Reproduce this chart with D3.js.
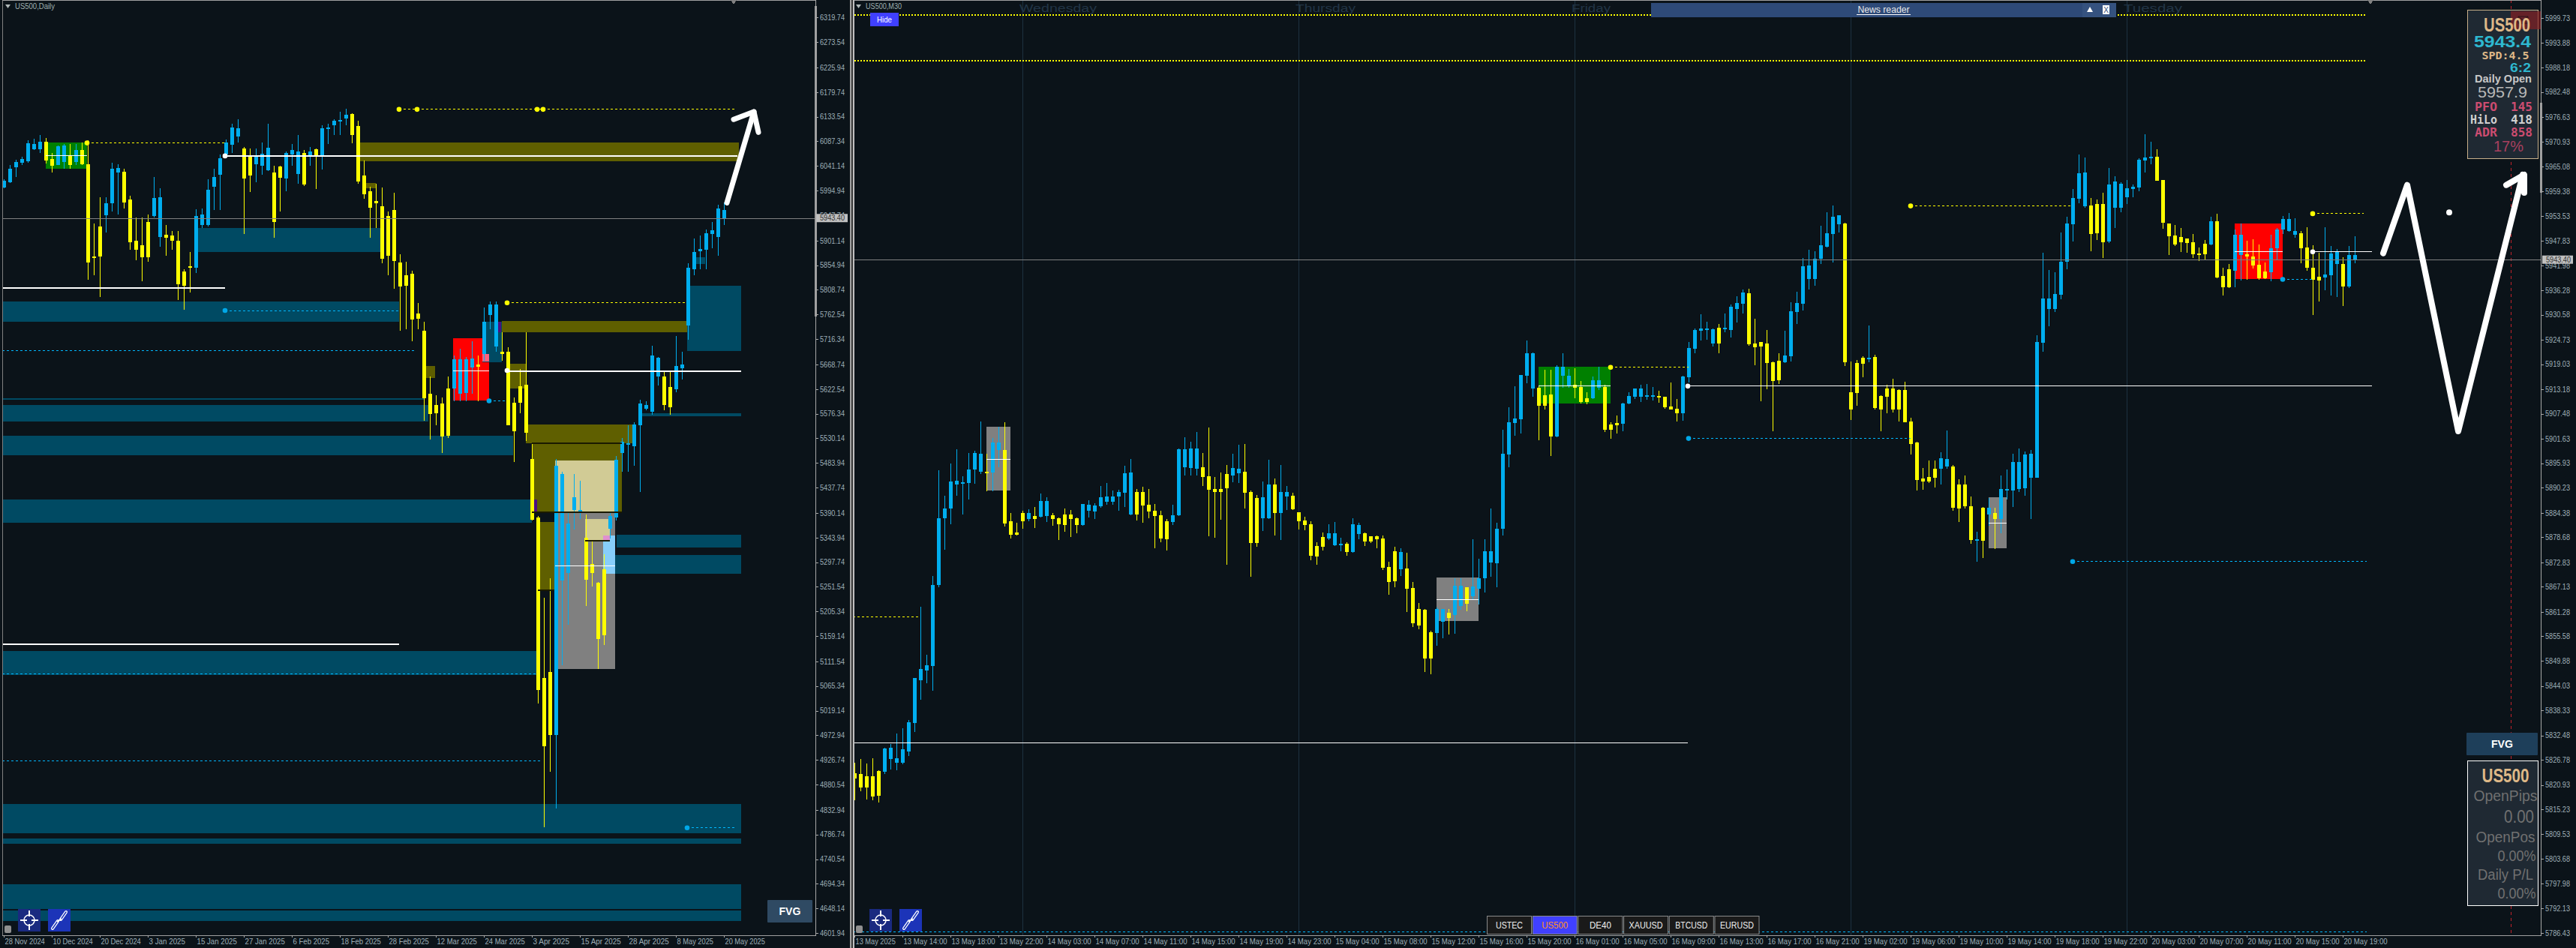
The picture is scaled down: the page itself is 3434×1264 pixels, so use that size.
<!DOCTYPE html>
<html><head><meta charset="utf-8">
<script src="https://cdn.jsdelivr.net/npm/d3@7"></script>
<style>
html,body{margin:0;padding:0;background:#0b1319;overflow:hidden}
svg{display:block}
text{font-family:"Liberation Sans",sans-serif}
</style></head><body>
<script>
// ---------- Daily pane data ----------
const dailyDates = ["28 Nov 2024","10 Dec 2024","20 Dec 2024","3 Jan 2025","15 Jan 2025","27 Jan 2025","6 Feb 2025","18 Feb 2025","28 Feb 2025","12 Mar 2025","24 Mar 2025","3 Apr 2025","15 Apr 2025","28 Apr 2025","8 May 2025","20 May 2025"];
const dailyTicks = [6319.74,6273.54,6225.94,6179.74,6133.54,6087.34,6041.14,5994.94,5947.74,5901.14,5854.94,5808.74,5762.54,5716.34,5668.74,5622.54,5576.34,5530.14,5483.94,5437.74,5390.14,5343.94,5297.74,5251.54,5205.34,5159.14,5111.54,5065.34,5019.14,4972.94,4926.74,4880.54,4832.94,4786.74,4740.54,4694.34,4648.14,4601.94];
const dailyOpen = [6000.4,6011,6039,6047,6050,6072,6072,6087,6054,6043.5,6049,6060,6048,6071,6044,5871,5927,5949,5971,6029,6030,5978,5901,5893,5936,5947,5908,5912,5911,5901,5843,5853,5850,5930,5930,6002,6024,6063,6081,6096,6074,6060,6044,6042,6033,6029,6040,6017,6062,6026,6065,6061,6072,6059,6112,6118,6125,6130,6139,6116,6023,5993,5975,5966,5947,5958,5860,5836,5839,5764,5732,5614,5593,5595,5624,5623,5614,5615,5663,5668,5689,5762,5703,5692,5692,5597,5628,5630,5492,5382,5081,5091,4973,5263,5278,5396,5390,5344,5294,5259,5285,5360,5381,5502,5518.5,5515,5555,5586,5580,5646,5646,5626,5622,5661,5742,5847,5881,5884,5914,5908,5943.5];
const dailyClose = [6013.6,6036,6049,6054,6084,6082.5,6086.5,6051.5,6042,6078,6080,6043.5,6071,6045,5860,5870,5871,5971,6036,6037,5973,5898,5884,5870,5870,5981,5983,5907,5901,5819,5817,5850,5947,5950,5996,6020.5,6056,6085,6113.5,6112,6018,6023,6058,6064,6075,5936,6019,6065,6071,6068,6007,6068,6060,6112,6114,6126,6127,6137,6099,6012,5988,5963,5971,5867,5873,5863,5815,5817,5753,5755,5605,5576,5577,5533,5535,5678,5679,5678,5680,5665,5749,5781,5781,5689,5555,5543,5597,5540,5377,5058,4953,4973,5479,5463,5370,5419,5396,5265,5278,5153,5160,5385,5490,5524,5521,5556,5595.5,5592.5,5686,5681,5592.5,5589,5665.5,5668,5850,5880,5885.5,5915,5920.5,5961,5958.5];
const dailyHigh = [6016.5,6043.5,6052.7,6057.8,6089.4,6092.3,6099.8,6094,6065.3,6079.7,6082.5,6082.5,6082.5,6085.4,6089.4,5933,5982,5982,6047,6045,6036.6,5985,5945,5945,5950,6020.5,5999,5930,5919,5919,5847,5879,5960,5962,6016.5,6036.6,6062.4,6091,6120,6128.5,6077,6074,6074,6085.4,6120,6042,6042,6068,6082.5,6099.8,6071,6076.8,6074,6117,6120,6128.5,6143,6148.6,6140,6125.6,6051,6002,6008,6001,5956,5990.6,5875.8,5861.4,5844,5784,5749,5646,5611.5,5606,5646,5686,5697.7,5683.3,5712,5686,5775,5786.7,5786.7,5729,5700.5,5606,5660,5729,5519.6,5384.6,5231,5267,5491,5468,5390,5462.7,5450.7,5387,5339,5261,5312,5393,5496.6,5531,5554,5560,5603,5600,5703.4,5683.3,5657.5,5657.5,5721.8,5693,5858.5,5905.6,5910,5921.7,5936,5967.7,5972];
const dailyLow = [5999.2,6009.6,6021,6042.3,6047.5,6071,6065.9,6045.2,6029,6042.3,6036.6,6035.4,6042.3,6042.3,5828,5836,5795,5916,5956,5950,5962,5884,5864,5825,5861,5945,5890,5873,5884,5790,5771,5804,5840,5925,5927,5959,5959,6057,6065,6085,5914,5992,6011,6025,6031,5907,5956,5993.5,6042,6008,6004,6042,5997.5,6034,6082.5,6099.8,6099.8,6117,6084,6008,5979,5907,5925,5858.5,5835.5,5811,5732,5735,5712,5735,5563,5528,5554,5502,5531,5600,5600,5600,5614,5600,5675,5735,5692,5675,5554,5486,5577,5525,5376,5033,4800,4904,4836,5104,5180,5359,5379,5215,5252,5097,5143,5342,5376,5468,5468,5479,5429,5583,5574,5629,5583,5574,5617,5640,5715,5835.5,5847,5847,5887,5873,5930];
// zones: [first bar, last bar, top price, bottom price]
const dailyTeal = [[32.1,62.8,5924.6,5879.8],[-0.2,65.9,5786.7,5748.8],[-0.2,70,5605,5602],[-0.2,70.7,5592.5,5561.5],[-0.2,84.9,5535,5498.4],[-0.2,88,5415,5372],[-0.2,88.9,5130.8,5085.4],[-0.2,122.9,4843.6,4788.4],[-0.2,122.9,4779,4770],[-0.2,122.9,4693.6,4647],[-0.2,122.9,4644,4625],[113.9,122.9,5816.6,5694.2],[106,122.9,5577,5571.3],[102.1,122.9,5349.6,5325],[101,122.9,5311,5276],[115,116.9,5870,5857]];
const dailyGray = [[91.9,101.9,5393,5097.5]];
const dailyOlive = [[58.9,122.5,6085.4,6049.8],[60.1,62,6009,5999],[70,71.9,5666,5643],[83,113.9,5750,5729],[84.1,87,5670,5624],[87,104.8,5556,5521],[88,103,5521,5393],[89,91.8,5373,5247]];
const dailyTan = [[91.9,101.9,5489,5393],[96.9,101,5379,5339]];
const dailyLightBlue = [[99.9,101.9,5348,5276]];
const dailyPink = [[99.9,101,5348,5340]];
const dailyPurple = [[82.3,82.9,5749,5729],[88.3,88.9,5415,5393]];
const dailyGreen = [[7,13.9,6085,6036]];
const dailyRed = [[74.9,80.9,5717.8,5601]];
const dailyZoneOverRed = [[79.8,83,5749,5673]];
const dailyRose = [[79.8,80.9,5689,5674]];
// lines: [first bar, last bar, price]
const dailyWhite = [[-0.2,36.9,5813.1],[36.9,122.2,6060.7],[83.9,122.9,5658],[-0.2,65.9,5145]];
const dailyThinWhite = [[74.9,80.9,5658],[7,13.9,6060.7],[91.9,101.9,5292]];
const dailyYellowDots = [[65.9,121.8,6148],[13.9,36.9,6085],[83.9,113.7,5785]];
const dailyBlueDots = [[36.9,65.9,5770.6],[-0.2,68.6,5695],[80.9,83.9,5601],[-0.2,88.9,5089],[-0.2,89.6,4925],[113.9,121.8,4800]];
const dailyDarkLines = [[88,103,5522],[88,103,5393],[96.9,101,5339],[89,91.8,5247]];
const dailyYellowMarkers = [[65.9,6148],[68.9,6148],[88.9,6148],[89.9,6148],[13.9,6085],[83.9,5785]];
const dailyBlueMarkers = [[36.9,5770.6],[80.9,5601],[113.9,4800]];
const dailyWhiteMarkers = [[36.9,6060.7],[83.9,5658]];
const dailyArrow = [[120.5,5972],[125,6142.8]];
const dailyArrowHead = [[121.6,6128.5],[125,6142.8],[125.7,6104.4]];

// ---------- M30 pane data ----------
const m30Times = ["13 May 2025","13 May 14:00","13 May 18:00","13 May 22:00","14 May 03:00","14 May 07:00","14 May 11:00","14 May 15:00","14 May 19:00","14 May 23:00","15 May 04:00","15 May 08:00","15 May 12:00","15 May 16:00","15 May 20:00","16 May 01:00","16 May 05:00","16 May 09:00","16 May 13:00","16 May 17:00","16 May 21:00","19 May 02:00","19 May 06:00","19 May 10:00","19 May 14:00","19 May 18:00","19 May 22:00","20 May 03:00","20 May 07:00","20 May 11:00","20 May 15:00","20 May 19:00"];
const m30Ticks = [5999.73,5993.88,5988.18,5982.48,5976.63,5970.93,5965.08,5959.38,5953.53,5947.83,5941.98,5936.28,5930.58,5924.73,5919.03,5913.18,5907.48,5901.63,5895.93,5890.23,5884.38,5878.68,5872.83,5867.13,5861.28,5855.58,5849.88,5844.03,5838.33,5832.48,5826.78,5820.93,5815.23,5809.53,5803.68,5797.98,5792.13,5786.43];
const m30Open = [5823.6,5823.5,5823,5823,5824.2,5824,5827,5826.1,5826.1,5828.7,5835.4,5845.3,5847.6,5848.7,5867.5,5883.1,5885.4,5891,5891.1,5891.3,5894.5,5894,5894,5893.7,5899,5899,5882.4,5879.8,5884.3,5882.9,5883.7,5883.5,5883.7,5883.8,5883.1,5884,5884,5883.1,5881.5,5884.9,5884.7,5885.9,5886.9,5886.9,5888.2,5889.1,5884,5889.2,5889.2,5886.3,5884.9,5883.8,5882.4,5882.2,5883.8,5895,5894.8,5894.6,5895,5892.9,5889.9,5889.9,5893.4,5893.1,5893.6,5894,5889.2,5887.8,5883.1,5883.1,5890.9,5884.3,5888.2,5888.3,5884.5,5882.6,5881.7,5876.6,5878.8,5878.4,5876.8,5877,5877.2,5875.2,5879.4,5879.6,5878.9,5878.9,5878.4,5871.7,5875.4,5871.2,5871.4,5866.9,5862,5861.8,5856.6,5856.4,5859,5861,5860.5,5862.6,5867,5865,5866.7,5869.2,5872.8,5872.7,5880.6,5898,5905.3,5906.2,5916.3,5913.3,5913.5,5911.8,5912,5902.2,5916.3,5914,5914.2,5913.7,5911.1,5911.1,5913.5,5913.7,5905,5905.3,5905.1,5909.8,5911.4,5911.4,5911.4,5911.4,5911.6,5911.4,5909.2,5908.6,5907.6,5916,5922.6,5926.8,5927.2,5923.8,5927.5,5927.2,5927,5931.9,5933.1,5935.6,5923.8,5924.2,5923.8,5919.5,5919.8,5919.5,5920.9,5931.2,5933.1,5938.9,5938.9,5943.6,5946.4,5949.4,5951.7,5951.8,5912.5,5919.3,5920.5,5920.2,5920.7,5911.6,5913.3,5913.3,5913,5913,5905.7,5900.8,5892.4,5892.7,5894.6,5894.6,5895.2,5895.2,5891,5891,5885.9,5878.1,5885.6,5884,5884.4,5882.9,5889.8,5889.6,5889.9,5890.1,5892.6,5892.6,5924,5931.9,5931.9,5935.2,5942.9,5951.7,5957.6,5955.9,5956,5956.4,5956.4,5947.7,5955.5,5955.5,5957.9,5959.9,5960.2,5966.5,5967,5967.4,5962,5951.8,5949,5948.7,5948.3,5947.4,5944.8,5947.1,5946.9,5952.4,5939.6,5941.2,5940.8,5944.5,5944.7,5944.2,5942.2,5940.7,5940.5,5946.1,5950.4,5950.1,5949.2,5949.6,5946.2,5941.5,5939.4,5939.2,5939.7,5942.4,5942.4,5937.2,5943.4];
const m30Close = [5822.5,5820.4,5820.4,5818.2,5818.4,5829.5,5829.6,5827.2,5829.3,5835.5,5845.9,5848,5848.9,5867.5,5883.2,5885.4,5891.7,5891.9,5891.5,5894.5,5898.3,5898.2,5893.6,5900.8,5900.8,5881.9,5879.2,5879.2,5882.4,5884.3,5882.9,5887.1,5887.1,5882.9,5881.7,5881.5,5882.9,5881.5,5886.5,5886.3,5886.1,5888,5888.2,5888.2,5889.2,5893.6,5893.8,5884,5886.1,5884.7,5883.7,5878.4,5878.2,5883.8,5899.2,5899.2,5899.4,5899.4,5892.8,5889.7,5889.2,5889.2,5890.1,5894.8,5894.6,5889.1,5877.4,5877.4,5888,5890.9,5884.3,5889.2,5889.2,5885.2,5882.4,5881.5,5874.4,5874.2,5876.5,5879.6,5879.6,5877.2,5875.2,5881.7,5881.5,5877.7,5877.7,5878.2,5871.5,5868.3,5868.4,5875.2,5866.7,5858.6,5858.1,5850.4,5850.4,5862,5862,5859.8,5867.4,5867.4,5863.2,5867.2,5869.2,5875.4,5875.4,5880.6,5898.1,5905.5,5906.3,5916.5,5921.6,5921.6,5909.3,5909.3,5902.2,5918.4,5918.4,5916.3,5913.5,5910.2,5910.2,5915.3,5915.3,5903.8,5903.8,5904.8,5909.8,5911.6,5913.3,5913.3,5911.8,5911.8,5911.3,5909,5908.5,5907.6,5916.2,5922.8,5927,5927.3,5927.3,5927.2,5923.8,5927.5,5932.4,5933.3,5935.7,5923.7,5923,5923.2,5919.3,5915.1,5915.3,5921,5931.4,5933.3,5941.9,5942,5943.6,5946.7,5949.6,5953.4,5953.7,5919.5,5908.5,5912.3,5919.1,5920.5,5908.8,5908.5,5911.4,5908.5,5908.5,5905.5,5900.4,5892.1,5891.7,5891.7,5892.6,5897.1,5896.9,5885.6,5885.4,5885.9,5878.1,5878.2,5877.9,5885.6,5882.9,5889.9,5890,5896.2,5896.2,5898,5898.1,5924.2,5934.3,5934.3,5935.4,5942.9,5951.8,5957.8,5963.6,5963.7,5949.4,5949.6,5947.4,5960.9,5961.6,5961.1,5960.1,5960.4,5966.7,5967.2,5967.4,5961.8,5952,5948.9,5946.9,5947.4,5947.3,5944.7,5944.7,5944.7,5952.4,5939.3,5937,5937,5949.2,5949.2,5944.2,5942,5939.1,5939.1,5946.1,5950.4,5952.9,5952.9,5950.1,5946.1,5941.5,5938.7,5938.5,5939.9,5944.8,5945.2,5937.2,5944.5,5944.5];
const m30High = [5826.2,5827,5826,5827.2,5824.4,5829.7,5830.5,5833,5834.1,5836.1,5845.9,5862.4,5851.3,5869.7,5894.3,5888.3,5895.9,5899.2,5892.9,5898.3,5898.8,5905.7,5898.2,5901.8,5904.5,5905.5,5884.3,5882,5884.9,5885.2,5885.7,5888.9,5888,5884.3,5883.3,5885.4,5885,5883.3,5886.5,5887.3,5886.6,5890.6,5891.3,5889.6,5889.7,5895.4,5896.9,5889.9,5890.5,5889.9,5886.5,5884.9,5882.9,5886.3,5899.3,5902,5901,5903.2,5898.3,5904.3,5892.8,5893.8,5895.5,5898.2,5900.2,5900.4,5889.6,5888.5,5891.7,5896.8,5892.3,5895.5,5890.6,5889,5884.5,5883.5,5882.4,5877.5,5879.8,5881.7,5882.2,5878.6,5877.5,5883.1,5882,5879.8,5878.9,5879.1,5879.1,5873,5876.5,5876.1,5875.1,5868.3,5863.3,5862,5856.9,5862.3,5862,5862,5869.2,5869.2,5867.1,5878.2,5873.7,5878.2,5885.4,5882,5903.8,5909,5913.9,5916.5,5924.5,5921.7,5913.8,5917.8,5917.8,5918.7,5921.6,5917.9,5918.1,5915.1,5912.5,5916.2,5918.4,5914.3,5905.5,5907.1,5910,5912.5,5913.3,5914.3,5914.4,5913.7,5912.8,5911.4,5914.8,5910.9,5916.3,5924.2,5927.4,5930.7,5928.9,5927.3,5928.4,5930.8,5933,5934.9,5936.4,5936.6,5929.6,5924.2,5927,5919.7,5921.6,5926.8,5933.5,5935.9,5943.8,5945.7,5945.4,5951.3,5954.4,5956,5953.7,5952,5919.7,5920,5920.8,5928,5921.3,5911.8,5914.3,5915.6,5913.2,5914.9,5906.6,5900.9,5894.9,5896.6,5896.6,5898.5,5903.6,5895.6,5892.2,5893.1,5888.2,5879.9,5885.8,5887.9,5885.6,5893.1,5894.5,5898.1,5899.3,5898.7,5899.1,5925.7,5945,5941,5940.4,5949.7,5953.4,5959.9,5967.9,5967.2,5957.8,5957.4,5959,5964.8,5962.9,5961.4,5962,5960.9,5967,5972.6,5970.8,5969.1,5962,5951.8,5951.5,5950.8,5948.3,5949.4,5946.2,5948,5953.4,5954.1,5941.5,5942.4,5950.4,5951.8,5947.8,5948.1,5946.9,5942.7,5949.2,5950.8,5953.6,5954.3,5953.1,5950.1,5950.9,5946.7,5945,5950.9,5946.6,5945.9,5943.9,5946.6,5948.9];
const m30Low = [5817.4,5819.4,5817.6,5817.3,5816.8,5823.5,5824.5,5824.4,5825.8,5827.7,5833.3,5840.8,5844.6,5842.9,5867,5875.8,5881.8,5888.3,5884,5887.5,5891.1,5893.4,5889.4,5889.4,5895,5881.2,5878.4,5879.1,5880.6,5882.4,5880.8,5883.3,5882.2,5881.4,5878,5880,5878.8,5879.6,5881.4,5883.3,5882.9,5885.5,5886.3,5886.3,5884.9,5885.7,5883.8,5882.6,5882,5883.1,5876.1,5877.5,5875.6,5881.5,5883.7,5893.1,5893.1,5893.1,5890.6,5878.9,5878.6,5882.8,5872.3,5891.5,5891.3,5885.4,5869.5,5876.5,5880.1,5882.9,5879.1,5878,5885,5885,5880.5,5880.3,5873.3,5872.3,5875.6,5878,5876.6,5875.4,5874.4,5875.1,5878.2,5876.6,5877.4,5876.1,5871.1,5865.3,5867,5869.7,5861.2,5857.8,5857.2,5847.3,5846.7,5853.4,5855.2,5856,5856.2,5861.8,5861.5,5864,5863,5865.8,5869.4,5867,5879.1,5895,5902.3,5902.9,5914.6,5911.5,5901.3,5908.5,5897.6,5902,5913.6,5913.5,5911.1,5909.9,5909.7,5910.9,5913,5903.3,5901.6,5902.9,5903.4,5909.7,5910.9,5910.2,5910.8,5910.5,5910,5908.6,5908.5,5905.7,5905.8,5914.8,5921.6,5924.5,5924.7,5923.2,5921.6,5926.5,5925.2,5928.7,5930.8,5923.3,5918.8,5910.4,5913.2,5903.4,5914.4,5919.3,5919.7,5928.4,5931.5,5936.5,5937.3,5942.4,5946.2,5942.7,5949.7,5918.6,5906,5909.3,5916,5919.5,5908.5,5903.4,5907.6,5907.8,5905.7,5905.5,5898,5889.6,5889.8,5891.4,5890.3,5891,5894.7,5884.9,5882.2,5885.4,5877.2,5872.9,5873.9,5881.4,5876,5879.7,5887.5,5885.8,5889.2,5888.4,5882.9,5892.6,5921.9,5927.9,5931.2,5934.2,5941.2,5947.7,5956.6,5955.5,5945.4,5948,5943.8,5947.3,5950.8,5954.4,5956.4,5957.9,5959.4,5963.7,5965.6,5961.8,5950.6,5944.5,5946.6,5945.2,5945,5943.8,5943,5943.4,5946.7,5939.1,5935,5936.8,5937,5938.5,5938.7,5941.4,5938.7,5938.9,5938.4,5943.2,5949.4,5949.9,5948.5,5942.6,5940.8,5930.5,5933.7,5936.2,5935,5934.7,5932.6,5936.8,5942.6];
const m30Gray = [[22,26,5904.5,5889.6],[97,104,5869.3,5859.2],[189,192,5888,5876.2]];
const m30Green = [[114,126,5918.4,5909.8]];
const m30Red = [[230,238,5951.8,5938.9]];
const m30White = [[22,26,5896.9],[97,104,5864.2],[114,126,5914],[189,192,5882],[230,238,5945.3],[-1,138.9,5830.8],[138.9,252.9,5914],[243,252.9,5945.3]];
const m30YellowDots = [[-1,11,5860.2],[126,139,5918.4],[176,202.6,5956],[243,251.5,5954.2]];
const m30TopYellowDots = [[-1,251.7,6000.6],[-1,251.7,5989.9]];
const m30BlueDots = [[139,176,5901.8],[238,243,5938.9],[203,252,5873.1],[-1,252,5786.8]];
const m30YellowMarkers = [[126,5918.4],[176,5956],[243,5954.2]];
const m30BlueMarkers = [[139,5901.8],[238,5938.9],[203,5873.1]];
const m30WhiteMarkers = [[138.9,5914],[243,5945.3]];
const m30Days = ["Wednesday","Thursday","Friday","Monday","Tuesday"];
const m30DayStarts = [28,74,120,166,212];
const m30Arrow = [[254.7,5944.9],[258.7,5960.8],[267.2,5903.4],[278,5963.2]];
const m30ArrowHead = [[275.3,5960.8],[278.3,5963.2],[278.3,5959]];
const m30Spot = [265.8,5954.4];
const symbols = ["USTEC","US500","DE40","XAUUSD","BTCUSD","EURUSD"];
const lastPrice = 5943.40;

// ---------- colours ----------
const BG="#0b1319", UP="#00aeef", DOWN="#ffff00", TEAL="#004a63", OLIVE="#5f5f00", TICK="#9fb0b8";

const svg=d3.select("body").append("svg").attr("width",3434).attr("height",1264);
svg.append("rect").attr("width",3434).attr("height",1264).attr("fill",BG);
const defs=svg.append("defs");
defs.append("clipPath").attr("id","clipL").append("rect").attr("x",4).attr("y",1).attr("width",1083).attr("height",1246);
defs.append("clipPath").attr("id","clipR").append("rect").attr("x",1139).attr("y",1).attr("width",2248).attr("height",1246);

const lx=d3.scaleLinear().domain([0,120]).range([5,965]).interpolate(d3.interpolateRound);
const ly=d3.scaleLinear().domain([6319.74,4601.94]).range([23.3,1244]);
const rx=d3.scaleLinear().domain([0,250]).range([1139,3139]).interpolate(d3.interpolateRound);
const ry=d3.scaleLinear().domain([5999.73,5786.43]).range([24,1244]);

function zones(g,x,y,data,fill){
  g.append("g").attr("shape-rendering","crispEdges").selectAll("rect").data(data).join("rect")
   .attr("x",d=>x(d[0])).attr("width",d=>x(d[1])-x(d[0]))
   .attr("y",d=>Math.round(y(d[2]))).attr("height",d=>Math.max(1,Math.round(y(d[3]))-Math.round(y(d[2]))))
   .attr("fill",fill);
}
function hlines(g,x,y,data,color,w,dash){
  g.append("g").attr("shape-rendering","crispEdges").selectAll("line").data(data).join("line")
   .attr("x1",d=>x(d[0])).attr("x2",d=>x(d[1]))
   .attr("y1",d=>Math.round(y(d[2]))+.5).attr("y2",d=>Math.round(y(d[2]))+.5)
   .attr("stroke",color).attr("stroke-width",w).attr("stroke-dasharray",dash||null);
}
function markers(g,x,y,data,color){
  g.append("g").selectAll("circle").data(data).join("circle")
   .attr("cx",d=>x(d[0])).attr("cy",d=>y(d[1])+.5).attr("r",3.3).attr("fill",color);
}
function candles(g,x,y,o,h,l,c){
  const idx=d3.range(o.length);
  const gg=g.append("g").attr("shape-rendering","crispEdges");
  gg.selectAll("rect.w").data(idx).join("rect").attr("class","w")
    .attr("x",i=>x(i)).attr("width",1)
    .attr("y",i=>Math.round(y(h[i]))).attr("height",i=>Math.max(1,Math.round(y(l[i]))-Math.round(y(h[i]))))
    .attr("fill",i=>c[i]>=o[i]?UP:DOWN);
  gg.selectAll("rect.b").data(idx).join("rect").attr("class","b")
    .attr("x",i=>x(i)-2).attr("width",5)
    .attr("y",i=>Math.round(y(Math.max(o[i],c[i]))))
    .attr("height",i=>Math.max(2,Math.round(y(Math.min(o[i],c[i])))-Math.round(y(Math.max(o[i],c[i])))))
    .attr("fill",i=>c[i]>=o[i]?UP:DOWN);
}
function arrow(g,x,y,segments,w){
  const line=d3.line().x(d=>x(d[0])).y(d=>y(d[1]));
  g.append("g").selectAll("path").data(segments).join("path").attr("d",line)
   .attr("fill","none").attr("stroke","#fff").attr("stroke-width",w)
   .attr("stroke-linecap","round").attr("stroke-linejoin","round");
}
function txt(g,x,y,s,o={}){
  const t=g.append("text").attr("x",x).attr("y",y).text(s)
    .attr("font-size",o.size||10).attr("fill",o.fill||"#fff")
    .attr("font-weight",o.weight||"normal").attr("text-anchor",o.anchor||"start");
  if(o.family) t.style("font-family",o.family);
  if(o.len) t.attr("textLength",o.len).attr("lengthAdjust","spacingAndGlyphs");
  return t;
}
function yAxis(xPos,y,ticks){
  const g=svg.append("g").attr("transform",`translate(${xPos},0)`)
    .call(d3.axisRight(y).tickValues(ticks).tickFormat(d3.format(".2f")).tickSize(3).tickPadding(2));
  g.select(".domain").remove();
  g.selectAll("line").attr("stroke","#a8a8a8").attr("shape-rendering","crispEdges");
  g.selectAll("text").attr("fill",TICK).attr("font-size",10.3).attr("textLength",33).attr("lengthAdjust","spacingAndGlyphs")
    .style("font-family",'"Liberation Sans",sans-serif');
  return g;
}
function xAxis(x,ticks,labels){
  const g=svg.append("g").attr("transform","translate(0,1247)")
    .call(d3.axisBottom(x).tickValues(ticks).tickFormat((d,i)=>labels[i]).tickSize(3).tickPadding(2));
  g.select(".domain").remove();
  g.selectAll("line").attr("stroke","#a8a8a8").attr("shape-rendering","crispEdges");
  g.selectAll("text").attr("text-anchor","start").attr("dx",1).attr("fill",TICK).attr("font-size",10.5)
    .attr("textLength",(d,i)=>labels[i].length*4.85).attr("lengthAdjust","spacingAndGlyphs")
    .style("font-family",'"Liberation Sans",sans-serif');
}

// ---------- Daily pane ----------
const L=svg.append("g").attr("clip-path","url(#clipL)");
zones(L,lx,ly,dailyTeal,TEAL);
zones(L,lx,ly,dailyGray,"#808080");
zones(L,lx,ly,dailyOlive,OLIVE);
zones(L,lx,ly,dailyTan,"#d1cb95");
zones(L,lx,ly,dailyLightBlue,"#87cefa");
zones(L,lx,ly,dailyPink,"#e090d0");
zones(L,lx,ly,dailyGreen,"#008000");
zones(L,lx,ly,dailyRed,"#ff0000");
zones(L,lx,ly,dailyZoneOverRed,TEAL);
zones(L,lx,ly,dailyRose,"#ff6080");
zones(L,lx,ly,dailyPurple,"#4b0f82");
candles(L,lx,ly,dailyOpen,dailyHigh,dailyLow,dailyClose);
hlines(L,lx,ly,dailyDarkLines,"#1a1a00",2);
hlines(L,lx,ly,dailyWhite,"#fff",2);
hlines(L,lx,ly,dailyThinWhite,"#fff",1);
hlines(L,lx,ly,dailyYellowDots,DOWN,1.5,"3,3");
hlines(L,lx,ly,dailyBlueDots,"#00b8ff",1.5,"3,3");
markers(L,lx,ly,dailyYellowMarkers,DOWN);
markers(L,lx,ly,dailyBlueMarkers,"#00a8e8");
markers(L,lx,ly,dailyWhiteMarkers,"#fff");
L.append("line").attr("x1",4).attr("x2",1087).attr("y1",Math.round(ly(lastPrice))+.5).attr("y2",Math.round(ly(lastPrice))+.5)
  .attr("stroke","#808080").attr("stroke-width",1);
arrow(L,lx,ly,[dailyArrow,dailyArrowHead],7);

// ---------- M30 pane ----------
const R=svg.append("g").attr("clip-path","url(#clipR)");
R.append("g").attr("shape-rendering","crispEdges").selectAll("line").data(m30DayStarts).join("line")
  .attr("x1",d=>rx(d)+.5).attr("x2",d=>rx(d)+.5).attr("y1",0).attr("y2",1247).attr("stroke","#1d3140");
R.append("g").selectAll("text").data(m30Days).join("text")
  .attr("x",(d,i)=>rx(m30DayStarts[i])-4).attr("y",16).attr("fill","#223546").attr("font-size",15.5)
  .attr("textLength",(d,i)=>[103,80,52,78,78][i]).attr("lengthAdjust","spacingAndGlyphs").text(d=>d);
R.append("line").attr("x1",3347.5).attr("x2",3347.5).attr("y1",0).attr("y2",1247)
  .attr("stroke","#c0202a").attr("stroke-dasharray","4,4");
zones(R,rx,ry,m30Gray,"#808080");
zones(R,rx,ry,m30Green,"#008000");
zones(R,rx,ry,m30Red,"#ff0000");
candles(R,rx,ry,m30Open,m30High,m30Low,m30Close);
hlines(R,rx,ry,m30White,"#fff",1);
hlines(R,rx,ry,m30YellowDots,DOWN,1.5,"3,3");
hlines(R,rx,ry,m30TopYellowDots,DOWN,2,"2,2");
hlines(R,rx,ry,m30BlueDots,"#00b8ff",1.5,"3,3");
markers(R,rx,ry,m30YellowMarkers,DOWN);
markers(R,rx,ry,m30BlueMarkers,"#00a8e8");
markers(R,rx,ry,m30WhiteMarkers,"#fff");
R.append("line").attr("x1",1139).attr("x2",3387).attr("y1",Math.round(ry(lastPrice))+.5).attr("y2",Math.round(ry(lastPrice))+.5)
  .attr("stroke","#808080");
arrow(R,rx,ry,[m30Arrow,m30ArrowHead],8);
R.append("circle").attr("cx",rx(m30Spot[0])).attr("cy",ry(m30Spot[1])).attr("r",4).attr("fill","#fff");

// ---------- frames ----------
const frame=svg.append("g").attr("shape-rendering","crispEdges");
[[3,0,1,1247,"#808080"],[3,0,1085,1,"#a0a0a0"],[3,1247,1085,1,"#a0a0a0"],[1087,0,1,1248,"#a8a8a8"],[1086,8,3,414,"#a0a0a0"],
 [1133,0,2,1264,"#a0a0a0"],[1135,0,2,1264,"#3a3a3a"],[1137,0,2,1264,"#c0c0c0"],
 [1139,0,2249,1,"#a0a0a0"],[1139,1247,2249,1,"#a0a0a0"],[3387,0,1,1248,"#a8a8a8"],[3386,137,3,120,"#a0a0a0"]]
 .forEach(d=>frame.append("rect").attr("x",d[0]).attr("y",d[1]).attr("width",d[2]).attr("height",d[3]).attr("fill",d[4]));
frame.append("path").attr("d","M974,0L982,0L978,6Z").attr("fill","#808080");
frame.append("path").attr("d","M3156,0L3164,0L3160,6Z").attr("fill","#808080");

yAxis(1088,ly,dailyTicks);
yAxis(3388,ry,m30Ticks);
xAxis(lx,dailyDates.map((d,i)=>i*8),dailyDates);
xAxis(rx,m30Times.map((d,i)=>i*8),m30Times);

// price tags
function tag(x,w,y){
  svg.append("rect").attr("x",x).attr("y",y-5.5).attr("width",w).attr("height",11).attr("fill","#c0c0c0");
  txt(svg,x+5,y+3.5,d3.format(".2f")(lastPrice),{size:10.3,fill:"#303030",len:33});
}
tag(1088,42,ly(lastPrice)); tag(3389,41,ry(lastPrice));

// titles
function title(x,s,len){
  svg.append("path").attr("d",`M${x},6L${x+7},6L${x+3.5},11Z`).attr("fill","#b0b8b8");
  txt(svg,x+13,12,s,{size:10,fill:"#9fb0b0",len:len});
}
title(7,"US500,Daily",53); title(1141,"US500,M30",48);

// Hide button
svg.append("rect").attr("x",1160).attr("y",17).attr("width",38).attr("height",18).attr("fill","#4040ff");
txt(svg,1179,30,"Hide",{size:10.5,anchor:"middle",len:20});

// News reader
svg.append("rect").attr("x",2201).attr("y",4).attr("width",620).attr("height",19).attr("fill","#2e4a78");
svg.append("rect").attr("x",2776).attr("y",4).attr("width",45).attr("height",19).attr("fill","#35527f");
txt(svg,2511,17,"News reader",{size:12.5,anchor:"middle",fill:"#e8e8e8",len:69});
svg.append("rect").attr("x",2475).attr("y",19).attr("width",72).attr("height",1).attr("fill","#fff");
svg.append("path").attr("d","M2786,9L2790,16L2782,16Z").attr("fill","#fff");
svg.append("rect").attr("x",2803).attr("y",7).attr("width",9).attr("height",12).attr("fill","#fff");
txt(svg,2807.5,17,"X",{size:10,anchor:"middle",fill:"#2e4a78"});

// handles + icons
function icons(x0,x1,hx){
  svg.append("rect").attr("x",hx).attr("y",1234).attr("width",9).attr("height",10).attr("rx",2).attr("fill","#909090");
  svg.append("rect").attr("x",x0).attr("y",1212).attr("width",30).attr("height",30).attr("fill","#1a2a80");
  svg.append("rect").attr("x",x1).attr("y",1212).attr("width",30).attr("height",30).attr("fill","#1c34b8");
  const c=x0+15;
  svg.append("circle").attr("cx",c).attr("cy",1227).attr("r",7).attr("fill","none").attr("stroke","#fff").attr("stroke-width",1.5);
  svg.append("path").attr("d",`M${c},1214V1222M${c},1232V1240M${c-12},1227H${c-3}M${c+3},1227H${c+12}`).attr("stroke","#fff").attr("stroke-width",2);
  const k=x1+15;
  svg.append("path").attr("d",`M${k-9},1238L${k-2},1228M${k+2},1226L${k+9},1216`).attr("stroke","#fff").attr("stroke-width",4).attr("stroke-linecap","round");
  svg.append("path").attr("d",`M${k-9},1238L${k-2},1228M${k+2},1226L${k+9},1216`).attr("stroke","#1c34b8").attr("stroke-width",1.5).attr("stroke-linecap","round");
  svg.append("path").attr("d",`M${k-3},1229L${k+3},1225`).attr("stroke","#fff").attr("stroke-width",2);
}
icons(24,64,6); icons(1159,1199,1141);

// FVG buttons
function fvg(x,y,w,h,col){
  svg.append("rect").attr("x",x).attr("y",y).attr("width",w).attr("height",h).attr("rx",1).attr("fill",col);
  txt(svg,x+w/2,y+h/2+5,"FVG",{size:14,weight:"bold",anchor:"middle",len:29});
}
fvg(1023,1200,60,30,"#2f4a63"); fvg(3288,977,95,30,"#1e3f5a");

// symbol buttons
const symbolWidths=[36,35,29,45,43,45];
symbols.forEach((s,i)=>{
  const x=1982+i*60.7, active=s==="US500";
  svg.append("rect").attr("x",x+.5).attr("y",1221.5).attr("width",59).attr("height",24)
    .attr("fill",active?"#4040ff":"#1a1a1a").attr("stroke","#8a8a8a").attr("stroke-width",1);
  txt(svg,x+30,1238,s,{size:12.5,anchor:"middle",fill:active?"#ff9020":"#f0f0f0",len:symbolWidths[i]});
});

// info panel top
const MONO='"DejaVu Sans Mono",monospace';
svg.append("rect").attr("x",3289.5).attr("y",13.5).attr("width",94).attr("height",198).attr("fill","#1f2933").attr("stroke","#c8b08a");
svg.append("rect").attr("x",3347).attr("y",15).attr("width",40).attr("height",24).attr("fill","#8c1e24").attr("opacity",.65);
svg.append("path").attr("d","M3357,22h13v9h-13zM3357,22l6.5,5l6.5,-5").attr("fill","none").attr("stroke","#2a1518");
txt(svg,3342,42,"US500",{size:26,weight:"bold",anchor:"middle",fill:"#deb887",len:62});
txt(svg,3336,63,"5943.4",{size:22,weight:"bold",anchor:"middle",fill:"#2eb8d0",len:76});
txt(svg,3340,79,"SPD:4.5",{size:14,weight:"bold",anchor:"middle",fill:"#deb887",family:MONO,len:63});
txt(svg,3360,96,"6:2",{size:17,weight:"bold",anchor:"middle",fill:"#2eb8d0",len:28});
txt(svg,3337,110,"Daily Open",{size:15,weight:"bold",anchor:"middle",fill:"#c8c8c8",len:76});
txt(svg,3336,130,"5957.9",{size:21,anchor:"middle",fill:"#b8b8b8",len:66});
const PINK="#cc4c70";
[["PFO","145",148,PINK,PINK],["HiLo","418",165,"#d0d0d0","#d0d0d0"],["ADR","858",182,PINK,PINK]].forEach(r=>{
  txt(svg,3329,r[2],r[0],{size:15.5,weight:"bold",anchor:"end",fill:r[3],family:MONO,len:r[0].length>3?36:30});
  txt(svg,3376,r[2],r[1],{size:15.5,weight:"bold",anchor:"end",fill:r[4],family:MONO,len:29});
});
txt(svg,3344,202,"17%",{size:21,anchor:"middle",fill:"#a8405f",len:40});

// info panel bottom
svg.append("rect").attr("x",3289.5).attr("y",1014.5).attr("width",94).attr("height",193).attr("fill","#1f2933").attr("stroke","#ffffff");
txt(svg,3340,1043,"US500",{size:26,weight:"bold",anchor:"middle",fill:"#deb887",len:63});
const GR="#707070";
txt(svg,3340,1068,"OpenPips",{size:20,anchor:"middle",fill:GR,len:85});
txt(svg,3358,1097,"0.00",{size:24,anchor:"middle",fill:GR,len:40});
txt(svg,3340,1123,"OpenPos",{size:20,anchor:"middle",fill:GR,len:79});
txt(svg,3355,1148,"0.00%",{size:20,anchor:"middle",fill:GR,len:51});
txt(svg,3340,1173,"Daily P/L",{size:20,anchor:"middle",fill:GR,len:74});
txt(svg,3355,1198,"0.00%",{size:20,anchor:"middle",fill:GR,len:51});
</script>
</body></html>
